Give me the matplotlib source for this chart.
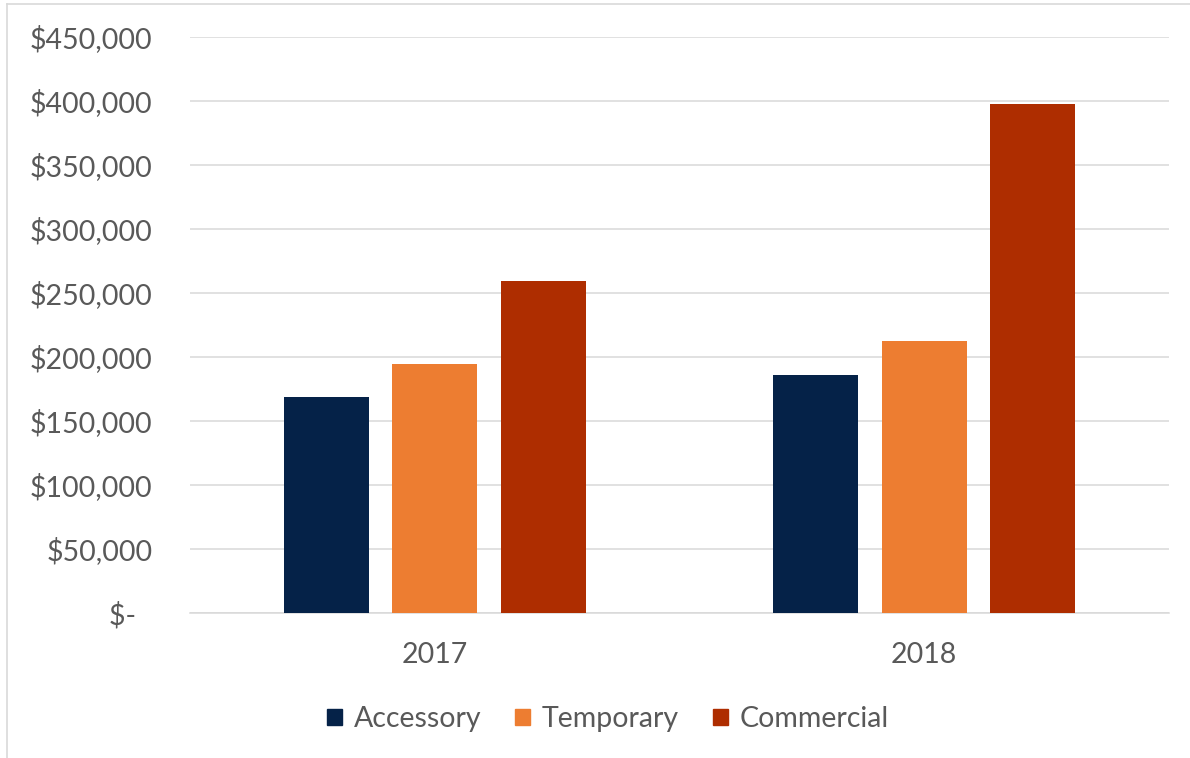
import numpy as np
import matplotlib.pyplot as plt
from matplotlib.lines import Line2D
from matplotlib.ticker import FuncFormatter

years = ['2017', '2018']
series = ['Accessory', 'Temporary', 'Commercial']
accessory = [169000, 185700]
temporary = [194500, 212700]
commercial = [259400, 397700]
colors = ['#052248', '#ED7D31', '#AE2D00']

plt.rcParams['font.family'] = ['Lato', 'DejaVu Sans']
grey = '#595959'
fs = 20.5

fig = plt.figure(figsize=(11.9, 7.58), dpi=100)
ax = fig.add_axes([190 / 1190, 145 / 758, 979 / 1190, 576 / 758])

x = np.arange(len(years))
w = 0.174
step = 0.2217
for i, (name, vals) in enumerate(zip(series, [accessory, temporary, commercial])):
    ax.bar(x + (i - 1) * step, vals, width=w, color=colors[i], label=name, zorder=3)

ax.set_xlim(-0.5, 1.5)
ax.set_ylim(0, 450000)
ax.set_yticks(np.arange(0, 450001, 50000))


def money(v, pos):
    if v == 0:
        return '$-\u2007'
    return '${:,.0f}'.format(v)


ax.yaxis.set_major_formatter(FuncFormatter(money))
ax.grid(axis='y', color='#d9d9d9', linewidth=1.1, zorder=0)
for s in ['top', 'right', 'left']:
    ax.spines[s].set_visible(False)
ax.spines['bottom'].set_color('#d9d9d9')
ax.spines['bottom'].set_linewidth(1.1)
ax.tick_params(axis='y', length=0, pad=27, labelsize=fs, labelcolor=grey)
ax.tick_params(axis='x', length=0, pad=21, labelsize=fs, labelcolor=grey)
ax.set_xticks(x)
ax.set_xticklabels(years)

handles = [plt.Rectangle((0, 0), 1, 1, color=c) for c in colors]
fig.legend(handles, series, loc='center', bbox_to_anchor=(608 / 1190, 1 - 719 / 758),
           ncol=3, frameon=False, fontsize=fs, labelcolor=grey,
           handlelength=0.53, handleheight=0.53, handletextpad=0.4, columnspacing=1.2)

# outer chart frame (only top and left edges visible in the crop)
fig.add_artist(Line2D([7 / 1190, 7 / 1190], [0, 1 - 4 / 758], transform=fig.transFigure,
                      color='#d9d9d9', linewidth=1.2))
fig.add_artist(Line2D([7 / 1190, 1], [1 - 4 / 758, 1 - 4 / 758], transform=fig.transFigure,
                      color='#d9d9d9', linewidth=1.2))

fig.savefig('out.png', dpi=100)
